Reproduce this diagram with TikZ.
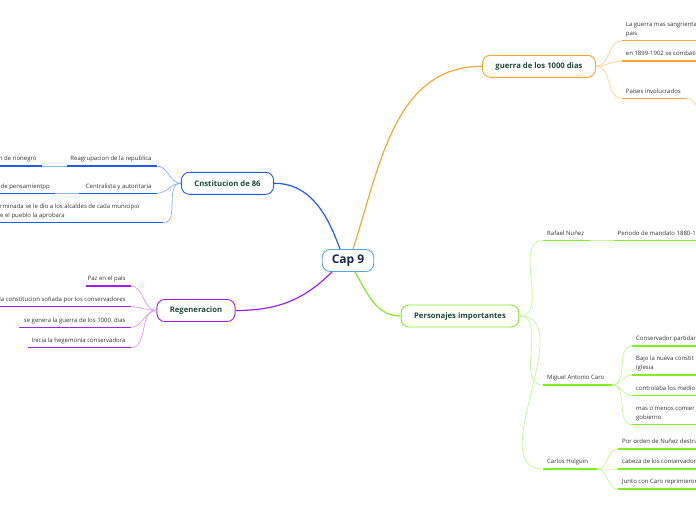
\documentclass[tikz,border=0pt]{standalone}
\usepackage{fontspec}
\setmainfont{Open Sans}

\definecolor{titlegreen}{HTML}{1D4A3C}
\definecolor{capnavy}{HTML}{15294B}
\definecolor{leafgray}{HTML}{333333}
\definecolor{capblue}{HTML}{5AA6DC}
\definecolor{warorange}{HTML}{F8A531}
\definecolor{warlight}{HTML}{FFD49A}
\definecolor{consblue}{HTML}{1F5CF2}
\definecolor{conslight}{HTML}{93B4FF}
\definecolor{regpurple}{HTML}{A21FEF}
\definecolor{reglight}{HTML}{D8A4F8}
\definecolor{perslime}{HTML}{80EE22}
\definecolor{perslight}{HTML}{C8F7A2}

\tikzset{
  topic/.style = {draw, line width = 0.9pt, rounded corners = 8pt, fill = white,
    minimum height = 22pt, inner xsep = 13pt, text = titlegreen,
    font = \fontsize{7.7}{9}\selectfont\bfseries},
  leaftext/.style = {inner sep = 0pt, text = leafgray,
    font = \fontsize{6}{8.8}\selectfont},
  underline/.style = {line width = 1.4pt},
  conn/.style = {line width = 0.8pt},
  branch/.style = {line width = 1.2pt}
}

% name, colour, left x, right x, y of the line, text
\newcommand\leafr[6]{
  \coordinate (#1-l) at (#3, #5);
  \coordinate (#1-r) at (#4, #5);
  \draw[underline, #2] (#1-l) -- (#1-r);
  \node[leaftext, align = left, anchor = south west] (#1)
    at ([xshift = 4pt, yshift = 2.4pt]#1-l) {#6\strut};}
\newcommand\leafl[6]{
  \coordinate (#1-l) at (#3, #5);
  \coordinate (#1-r) at (#4, #5);
  \draw[underline, #2] (#1-l) -- (#1-r);
  \node[leaftext, align = right, anchor = south east] (#1)
    at ([xshift = -5pt, yshift = 2.4pt]#1-r) {#6\strut};}

\begin{document}
\begin{tikzpicture}[x = 1pt, y = -1pt]
  \clip (0, 0) rectangle (696, 520);

  \node[topic, draw = capblue, text = capnavy, inner xsep = 9.5pt,
    font = \fontsize{12}{14}\selectfont\bfseries] (cap) at (348, 260.5) {Cap 9};

  \node[topic, draw = warorange] (war) at (539, 66.3) {guerra de los 1000 dias};
  \node[topic, draw = consblue] (cons) at (227.5, 183.3) {Cnstitucion de 86};
  \node[topic, draw = regpurple] (reg) at (196, 310.5) {Regeneracion};
  \node[topic, draw = perslime] (pers) at (460, 316) {Personajes importantes};

  % main branches
  \draw[branch, warorange] ([xshift = 5pt]cap.north) to[out = 72, in = 180] (war.west);
  \draw[branch, consblue] ([xshift = -8pt]cap.north) to[out = 110, in = 0] (cons.east);
  \draw[branch, regpurple] ([xshift = -16pt]cap.south) to[out = -135, in = 0] (reg.east);
  \draw[branch, perslime] ([xshift = 7pt]cap.south) to[out = -60, in = 180] (pers.west);

  % guerra de los 1000 dias
  \leafr{war1}{warorange}{621.7}{700}{40.7}{La guerra mas sangrienta\\pais}
  \leafr{war2}{warorange}{621.7}{700}{61}{en 1899-1902 se combati}
  \leafr{war3}{warorange}{621.7}{686}{98.3}{Paises involucrados}
  \coordinate (war3-c) at (708, 114);
  \foreach \n in {war1, war2, war3}
    \draw[conn, warlight] (war.east) to[out = 0, in = 180] (\n-l);
  \draw[conn, warlight] (war3-r) to[out = 0, in = 180] (war3-c);

  % Cnstitucion de 86
  \leafl{cons1}{consblue}{66.7}{156.7}{166}{Reagrupacion de la republica}
  \leafl{cons1a}{consblue}{-5}{41.7}{166}{n de rionegro}
  \leafl{cons2}{consblue}{79}{156.7}{193.3}{Centralista y autoritaria}
  \leafl{cons2a}{consblue}{-5}{55}{193.3}{de pensamientpp}
  \leafr{cons3}{consblue}{-4}{163.3}{222.7}{rminada se le dio a los alcaldes de cada municipio\\e el pueblo la aprobara}
  \foreach \n in {cons1, cons2, cons3}
    \draw[conn, conslight] (cons.west) to[out = 180, in = 0] (\n-r);
  \draw[conn, conslight] (cons1-l) -- (cons1a-r);
  \draw[conn, conslight] (cons2-l) -- (cons2a-r);

  % Regeneracion
  \leafl{reg1}{regpurple}{86}{130.7}{286}{Paz en el pais}
  \leafl{reg2}{regpurple}{-5}{130.7}{306.7}{la constitucion soñada por los conservadores}
  \leafl{reg3}{regpurple}{19}{130.7}{327.3}{se genera la guerra de los 1000\ \ dias}
  \leafl{reg4}{regpurple}{28}{130.7}{347.7}{Inicia la hegemonia conservadora}
  \foreach \n in {reg1, reg2, reg3, reg4}
    \draw[conn, reglight] (reg.west) to[out = 180, in = 0] (\n-r);

  % Personajes importantes
  \leafr{pers1}{perslime}{543}{590}{240.7}{Rafael Nuñez}
  \leafr{pers1a}{perslime}{613.5}{700}{240.7}{Periodo de mandato 1880-1}
  \leafr{pers2}{perslime}{543}{612}{385}{Miguel Antonio Caro}
  \leafr{pers2a}{perslime}{632}{700}{346}{Conservador partidar}
  \leafr{pers2b}{perslime}{632}{700}{375}{Bajo la nueva constit\\iglesia}
  \leafr{pers2c}{perslime}{632}{700}{395.5}{controlaba los medio}
  \leafr{pers2d}{perslime}{632}{700}{424.5}{mas o menos comier\\gobierno}
  \leafr{pers3}{perslime}{543}{597}{469}{Carlos Holguin}
  \leafr{pers3a}{perslime}{618}{700}{449}{Por orden de Nuñez destru}
  \leafr{pers3b}{perslime}{618}{700}{469}{cabeza de los conservador}
  \leafr{pers3c}{perslime}{618}{700}{489}{Junto con Caro reprimieron}
  \foreach \n in {pers1, pers2, pers3}
    \draw[conn, perslight] (pers.east) to[out = 0, in = 180] (\n-l);
  \draw[conn, perslight] (pers1-r) -- (pers1a-l);
  \foreach \n in {pers2a, pers2b, pers2c, pers2d}
    \draw[conn, perslight] (pers2-r) to[out = 0, in = 180] (\n-l);
  \foreach \n in {pers3a, pers3b, pers3c}
    \draw[conn, perslight] (pers3-r) to[out = 0, in = 180] (\n-l);
\end{tikzpicture}
\end{document}
